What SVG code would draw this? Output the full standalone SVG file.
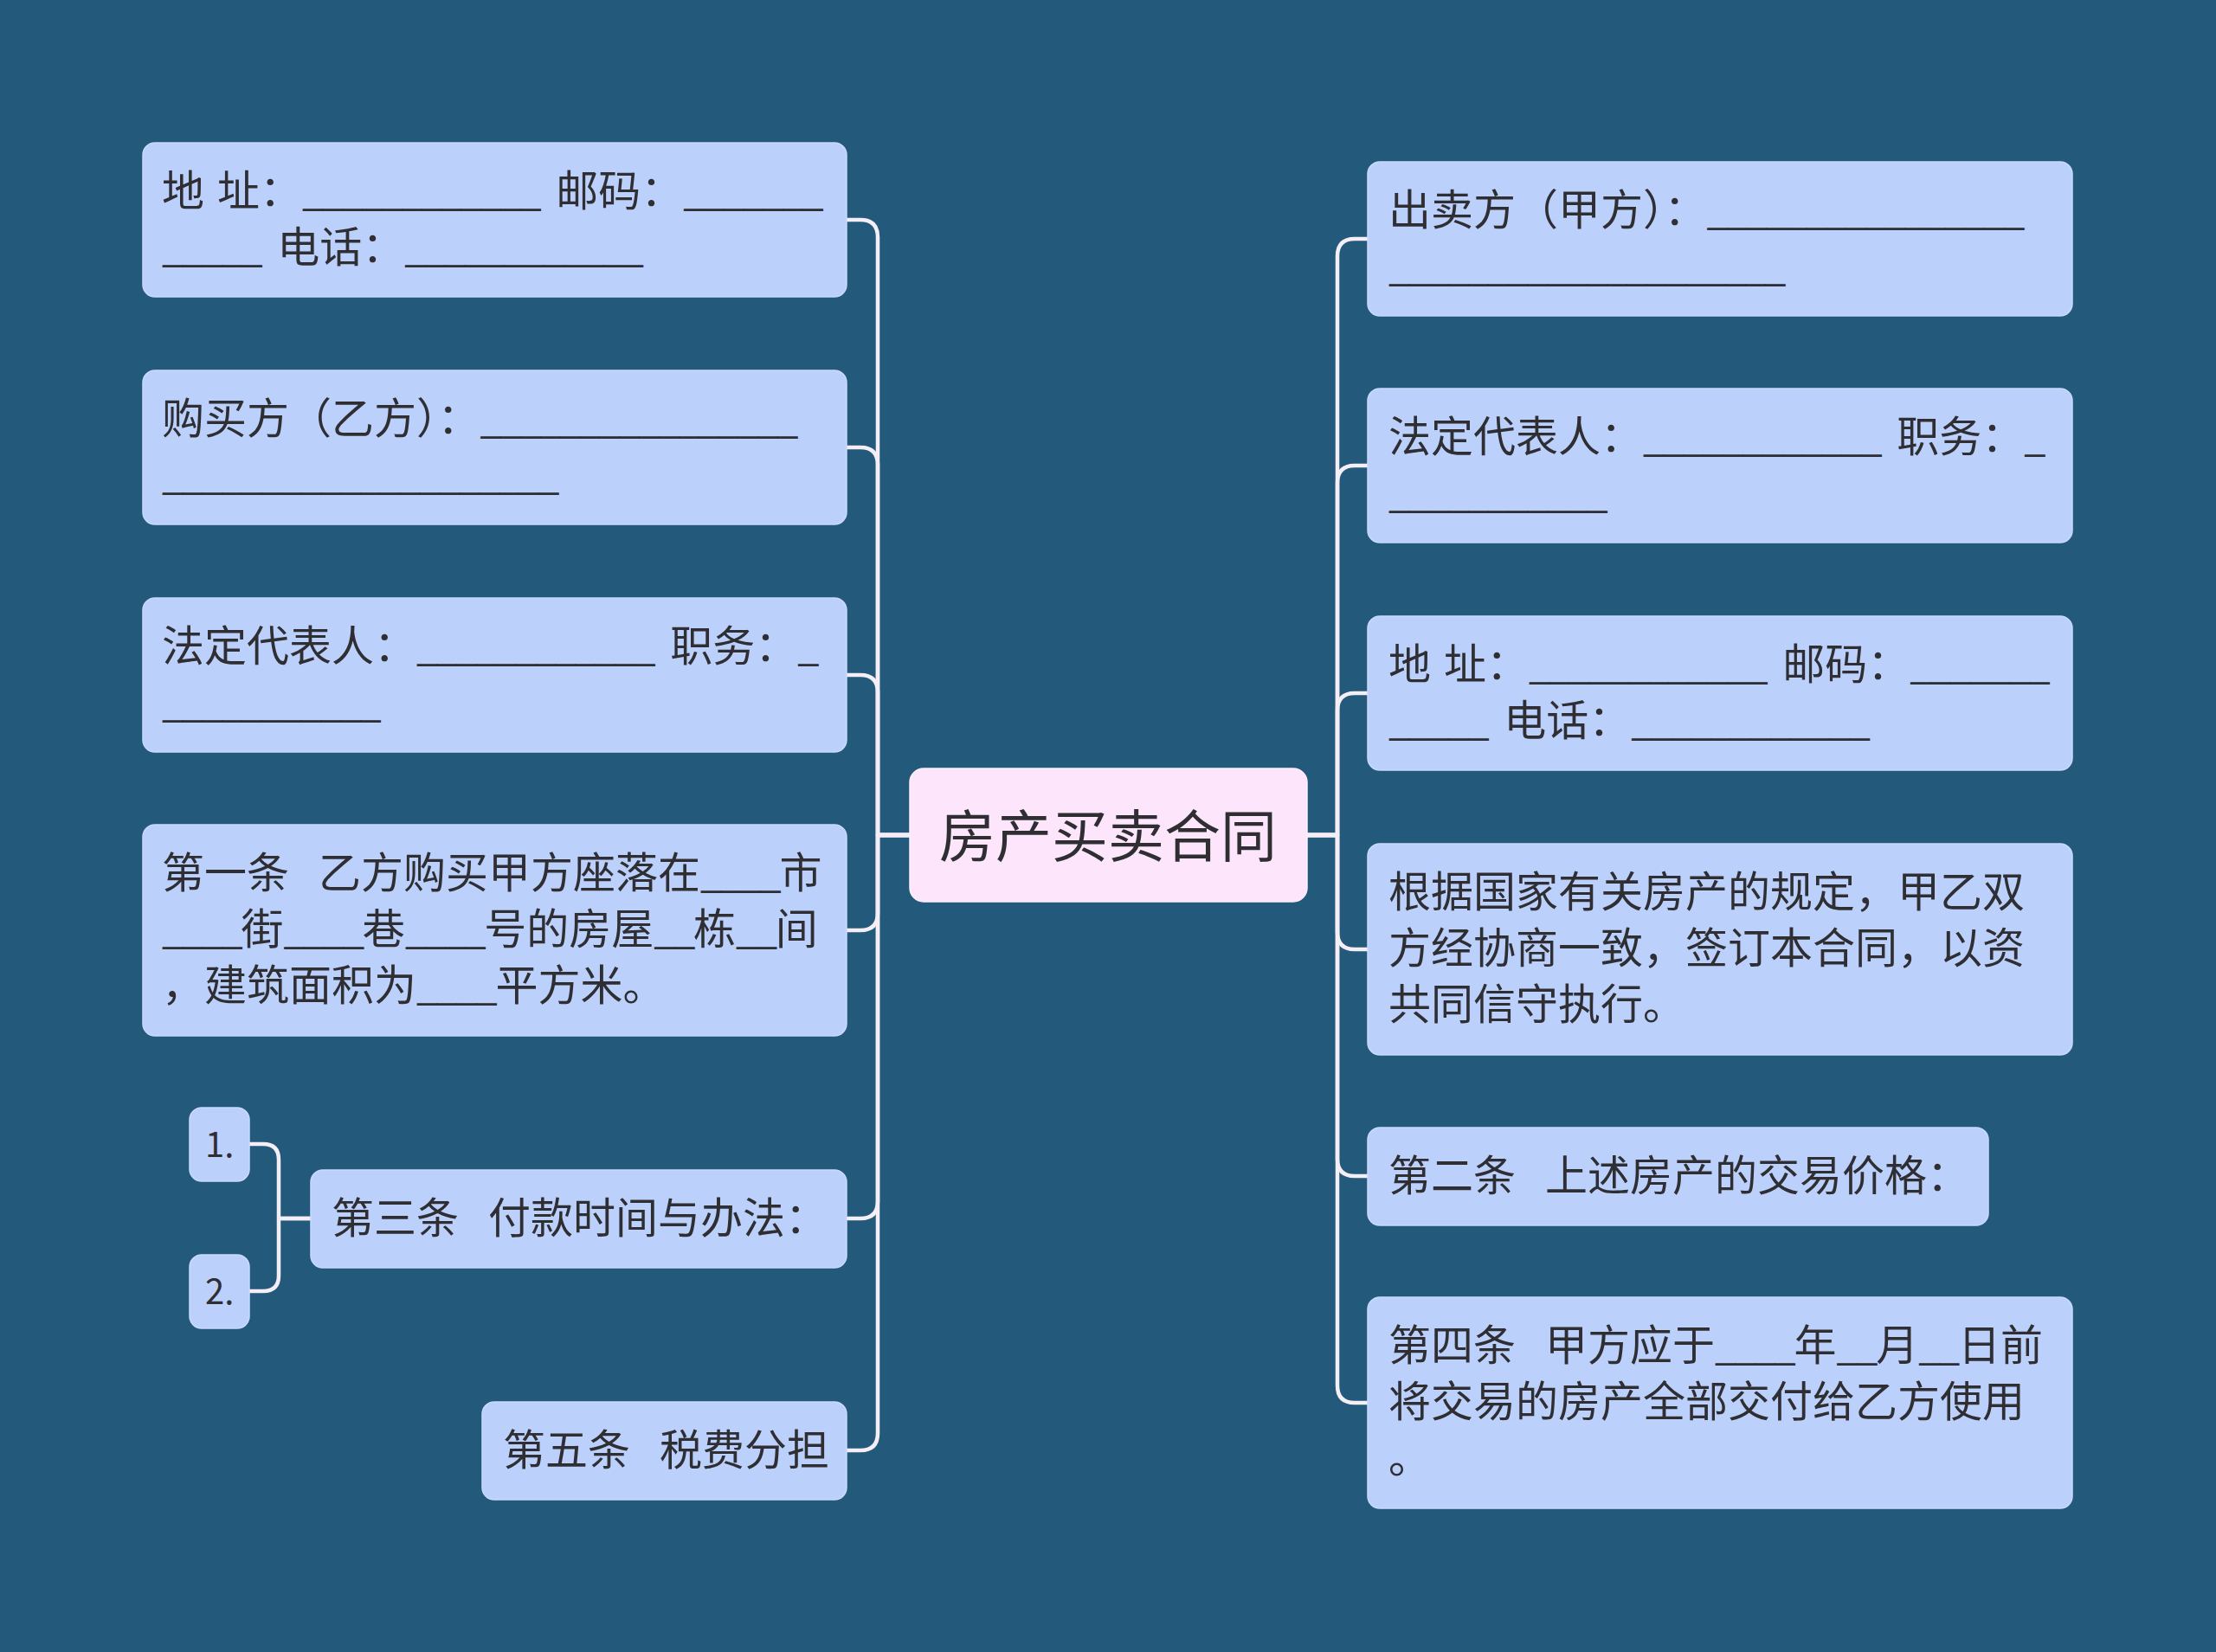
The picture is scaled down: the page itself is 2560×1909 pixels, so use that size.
<svg xmlns="http://www.w3.org/2000/svg" width="2560" height="1909" viewBox="0 0 2560 1909">
<style>
.bg{fill:#235a7b}
.box{fill:#bcd0fc;stroke:#c9d9fd;stroke-width:1.5}
.root{fill:#fde5fc;stroke:#fbeefb;stroke-width:1.5}
.t{font-family:"Noto Sans CJK SC","Noto Sans",sans-serif;font-size:49px;fill:#2e2e33;white-space:pre}
.rt{font-family:"Noto Sans CJK SC","Noto Sans",sans-serif;font-size:65px;fill:#2e2e33;text-anchor:middle}
.st{font-family:"Noto Sans CJK SC","Noto Sans",sans-serif;font-size:40px;fill:#2e2e33}
.u{font-size:45px;letter-spacing:-2.3px}
.sp{letter-spacing:6px}
.s1{letter-spacing:4px}
.s2{letter-spacing:8px}
.c{fill:none;stroke:#f6eef6;stroke-width:4.5;stroke-linecap:round;stroke-linejoin:round}
</style>
<rect class="bg" x="0" y="0" width="2560" height="1909"/>
<g id="connectors">
<path class="c" d="M1051,965 H1014 V274 Q1014,254 994,254 H978"/>
<path class="c" d="M1051,965 H1014 V537 Q1014,517 994,517 H978"/>
<path class="c" d="M1051,965 H1014 V800 Q1014,780 994,780 H978"/>
<path class="c" d="M1051,965 H1014 V1055 Q1014,1075 994,1075 H978"/>
<path class="c" d="M1051,965 H1014 V1388 Q1014,1408 994,1408 H978"/>
<path class="c" d="M1051,965 H1014 V1656 Q1014,1676 994,1676 H978"/>
<path class="c" d="M1510,965 H1545 V296 Q1545,276 1565,276 H1580"/>
<path class="c" d="M1510,965 H1545 V558 Q1545,538 1565,538 H1580"/>
<path class="c" d="M1510,965 H1545 V821 Q1545,801 1565,801 H1580"/>
<path class="c" d="M1510,965 H1545 V1077 Q1545,1097 1565,1097 H1580"/>
<path class="c" d="M1510,965 H1545 V1339 Q1545,1359 1565,1359 H1580"/>
<path class="c" d="M1510,965 H1545 V1601 Q1545,1621 1565,1621 H1580"/>
<path class="c" d="M359,1408 H322 V1340 Q322,1322 304,1322 H288"/>
<path class="c" d="M359,1408 H322 V1474 Q322,1492 304,1492 H288"/>
</g>
<g id="root">
<rect class="root" x="1051" y="888" width="459" height="154" rx="16"/>
<text class="rt" x="1280" y="990">房产买卖合同</text>
</g>
<g id="l1">
<rect class="box" x="165" y="165" width="813" height="178" rx="14"/>
<text class="t" xml:space="preserve"><tspan x="187" y="238">地<tspan class="s1"> </tspan>址：<tspan class="u">____________</tspan><tspan class="s2"> </tspan>邮码：<tspan class="u">_______</tspan></tspan><tspan x="187" y="303"><tspan class="u">_____</tspan><tspan class="s2"> </tspan>电话：<tspan class="u">____________</tspan></tspan></text>
</g>
<g id="l2">
<rect class="box" x="165" y="428" width="813" height="178" rx="14"/>
<text class="t" xml:space="preserve"><tspan x="187" y="501">购买方（乙方）：<tspan class="u">________________</tspan></tspan><tspan x="187" y="566"><tspan class="u">____________________</tspan></tspan></text>
</g>
<g id="l3">
<rect class="box" x="165" y="691" width="813" height="178" rx="14"/>
<text class="t" xml:space="preserve"><tspan x="187" y="764">法定代表人：<tspan class="u">____________</tspan><tspan class="s2"> </tspan>职务：<tspan class="u">_</tspan></tspan><tspan x="187" y="829"><tspan class="u">___________</tspan></tspan></text>
</g>
<g id="l4">
<rect class="box" x="165" y="953" width="813" height="244" rx="14"/>
<text class="t" xml:space="preserve"><tspan x="187" y="1026">第一条<tspan class="sp">  </tspan>乙方购买甲方座落在<tspan class="u">____</tspan>市</tspan><tspan x="187" y="1091"><tspan class="u">____</tspan>街<tspan class="u">____</tspan>巷<tspan class="u">____</tspan>号的房屋<tspan class="u">__</tspan>栋<tspan class="u">__</tspan>间</tspan><tspan x="187" y="1156">，建筑面积为<tspan class="u">____</tspan>平方米。</tspan></text>
</g>
<g id="l5">
<rect class="box" x="359" y="1352" width="619" height="113" rx="14"/>
<text class="t" xml:space="preserve" x="383" y="1425">第三条<tspan class="sp">  </tspan>付款时间与办法：</text>
</g>
<g id="l6">
<rect class="box" x="557" y="1620" width="421" height="113" rx="14"/>
<text class="t" xml:space="preserve" x="581" y="1693">第五条<tspan class="sp">  </tspan>税费分担</text>
</g>
<g id="s1">
<rect class="box" x="219" y="1280" width="69" height="85" rx="14"/>
<text class="st" x="237" y="1337">1.</text>
</g>
<g id="s2">
<rect class="box" x="219" y="1450" width="69" height="85" rx="14"/>
<text class="st" x="237" y="1507">2.</text>
</g>
<g id="r1">
<rect class="box" x="1580" y="187" width="814" height="178" rx="14"/>
<text class="t" xml:space="preserve"><tspan x="1604" y="260">出卖方（甲方）：<tspan class="u">________________</tspan></tspan><tspan x="1604" y="325"><tspan class="u">____________________</tspan></tspan></text>
</g>
<g id="r2">
<rect class="box" x="1580" y="449" width="814" height="178" rx="14"/>
<text class="t" xml:space="preserve"><tspan x="1604" y="522">法定代表人：<tspan class="u">____________</tspan><tspan class="s2"> </tspan>职务：<tspan class="u">_</tspan></tspan><tspan x="1604" y="587"><tspan class="u">___________</tspan></tspan></text>
</g>
<g id="r3">
<rect class="box" x="1580" y="712" width="814" height="178" rx="14"/>
<text class="t" xml:space="preserve"><tspan x="1604" y="785">地<tspan class="s1"> </tspan>址：<tspan class="u">____________</tspan><tspan class="s2"> </tspan>邮码：<tspan class="u">_______</tspan></tspan><tspan x="1604" y="850"><tspan class="u">_____</tspan><tspan class="s2"> </tspan>电话：<tspan class="u">____________</tspan></tspan></text>
</g>
<g id="r4">
<rect class="box" x="1580" y="975" width="814" height="244" rx="14"/>
<text class="t" xml:space="preserve"><tspan x="1604" y="1048">根据国家有关房产的规定，甲乙双</tspan><tspan x="1604" y="1113">方经协商一致，签订本合同，以资</tspan><tspan x="1604" y="1178">共同信守执行。</tspan></text>
</g>
<g id="r5">
<rect class="box" x="1580" y="1303" width="717" height="113" rx="14"/>
<text class="t" xml:space="preserve" x="1604" y="1376">第二条<tspan class="sp">  </tspan>上述房产的交易价格：</text>
</g>
<g id="r6">
<rect class="box" x="1580" y="1499" width="814" height="244" rx="14"/>
<text class="t" xml:space="preserve"><tspan x="1604" y="1572">第四条<tspan class="sp">  </tspan>甲方应于<tspan class="u">____</tspan>年<tspan class="u">__</tspan>月<tspan class="u">__</tspan>日前</tspan><tspan x="1604" y="1637">将交易的房产全部交付给乙方使用</tspan><tspan x="1604" y="1702">。</tspan></text>
</g>
</svg>
